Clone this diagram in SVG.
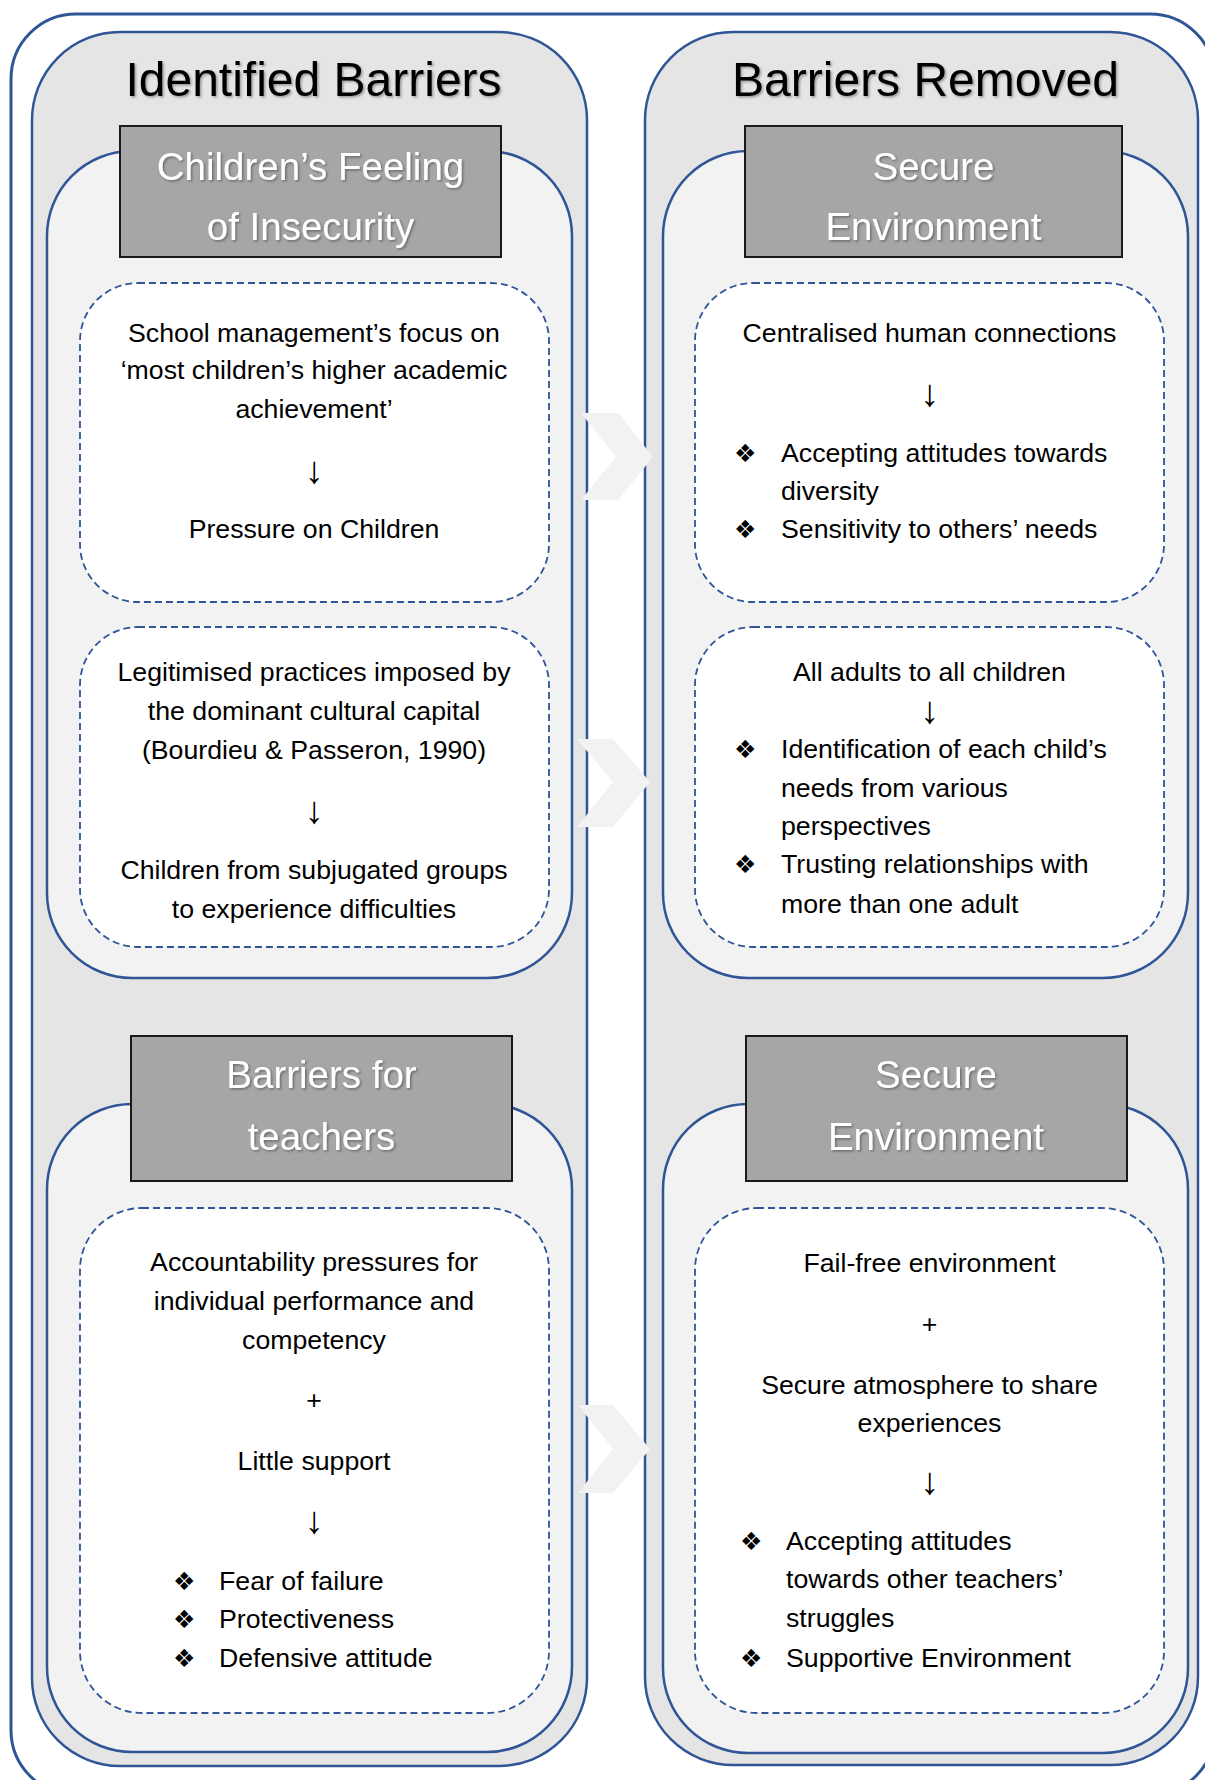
<svg xmlns="http://www.w3.org/2000/svg" width="1205" height="1780" viewBox="0 0 1205 1780">
<defs>
<filter id="sh" x="-10%" y="-20%" width="120%" height="140%">
<feDropShadow dx="1.5" dy="1.5" stdDeviation="1" flood-color="#000" flood-opacity="0.35"/>
</filter>
</defs>
<style>
.frame{fill:#fff;stroke:#2f5597;stroke-width:3}
.col{fill:#e5e5e5;stroke:#2f5597;stroke-width:2.5}
.panel{fill:#f2f2f2;stroke:#2f5597;stroke-width:2.5}
.card{fill:#fff;stroke:#2f5597;stroke-width:1.8;stroke-dasharray:7 4}
.hdr{fill:#a6a6a6;stroke:#1a1a1a;stroke-width:2}
.title{font-family:"Liberation Sans",Arial,sans-serif;font-size:48px;fill:#000;text-anchor:middle}
.htxt{font-family:"Liberation Sans",Arial,sans-serif;font-size:38.5px;fill:#fff;text-anchor:middle}
.t{font-family:"Liberation Sans",Arial,sans-serif;font-size:26.7px;fill:#000}
.c{text-anchor:middle}
.a{font-family:"Liberation Sans",Arial,sans-serif;font-size:38px;fill:#000;text-anchor:middle}
.b{font-family:"DejaVu Sans",sans-serif;font-size:25px;fill:#000}
.chev{fill:#f2f2f2}
</style>
<rect id="frame" class="frame" x="11" y="14" width="1204" height="1781" rx="65"/>

<g id="col-left">
<rect class="col" x="32" y="32" width="555" height="1734" rx="88"/>
<text class="title" x="313.5" y="96" filter="url(#sh)">Identified Barriers</text>
</g>
<g id="col-right">
<rect class="col" x="645" y="32" width="553" height="1733" rx="88"/>
<text class="title" x="925.5" y="96" filter="url(#sh)">Barriers Removed</text>
</g>

<g id="panel-left-1">
<rect class="panel" x="47" y="151" width="525" height="827" rx="85"/>
<rect class="hdr" x="120" y="126" width="381" height="131"/>
<text class="htxt" x="310.5" y="180" filter="url(#sh)">Children’s Feeling</text>
<text class="htxt" x="310.5" y="240" filter="url(#sh)">of Insecurity</text>
</g>
<g id="panel-right-1">
<rect class="panel" x="663" y="151" width="525" height="827" rx="85"/>
<rect class="hdr" x="745" y="126" width="377" height="131"/>
<text class="htxt" x="933.5" y="180" filter="url(#sh)">Secure</text>
<text class="htxt" x="933.5" y="240" filter="url(#sh)">Environment</text>
</g>
<g id="panel-left-2">
<rect class="panel" x="47" y="1104" width="525" height="648" rx="85"/>
<rect class="hdr" x="131" y="1036" width="381" height="145"/>
<text class="htxt" x="321.5" y="1088" filter="url(#sh)">Barriers for</text>
<text class="htxt" x="321.5" y="1150" filter="url(#sh)">teachers</text>
</g>
<g id="panel-right-2">
<rect class="panel" x="663" y="1104" width="525" height="649" rx="85"/>
<rect class="hdr" x="746" y="1036" width="381" height="145"/>
<text class="htxt" x="936" y="1088" filter="url(#sh)">Secure</text>
<text class="htxt" x="936" y="1150" filter="url(#sh)">Environment</text>
</g>

<g id="card-left-1">
<rect class="card" x="80" y="283" width="469" height="319" rx="58"/>
<text class="t c" x="314" y="342">School management’s focus on</text>
<text class="t c" x="314" y="379">‘most children’s higher academic</text>
<text class="t c" x="314" y="418">achievement’</text>
<text class="a" x="314" y="483">↓</text>
<text class="t c" x="314" y="538">Pressure on Children</text>
</g>
<g id="card-left-2">
<rect class="card" x="80" y="627" width="469" height="320" rx="58"/>
<text class="t c" x="314" y="681">Legitimised practices imposed by</text>
<text class="t c" x="314" y="720">the dominant cultural capital</text>
<text class="t c" x="314" y="759">(Bourdieu &amp; Passeron, 1990)</text>
<text class="a" x="314" y="823">↓</text>
<text class="t c" x="314" y="879">Children from subjugated groups</text>
<text class="t c" x="314" y="918">to experience difficulties</text>
</g>
<g id="card-left-3">
<rect class="card" x="80" y="1208" width="469" height="505" rx="62"/>
<text class="t c" x="314" y="1271">Accountability pressures for</text>
<text class="t c" x="314" y="1310">individual performance and</text>
<text class="t c" x="314" y="1349">competency</text>
<text class="t c" x="314" y="1409">+</text>
<text class="t c" x="314" y="1470">Little support</text>
<text class="a" x="314" y="1533">↓</text>
<text class="b" x="173" y="1590">❖</text><text class="t" x="219" y="1590">Fear of failure</text>
<text class="b" x="173" y="1628">❖</text><text class="t" x="219" y="1628">Protectiveness</text>
<text class="b" x="173" y="1667">❖</text><text class="t" x="219" y="1667">Defensive attitude</text>
</g>

<g id="card-right-1">
<rect class="card" x="695" y="283" width="469" height="319" rx="58"/>
<text class="t c" x="929.5" y="342">Centralised human connections</text>
<text class="a" x="929.5" y="406">↓</text>
<text class="b" x="734" y="462">❖</text><text class="t" x="781" y="462">Accepting attitudes towards</text>
<text class="t" x="781" y="500">diversity</text>
<text class="b" x="734" y="538">❖</text><text class="t" x="781" y="538">Sensitivity to others’ needs</text>
</g>
<g id="card-right-2">
<rect class="card" x="695" y="627" width="469" height="320" rx="58"/>
<text class="t c" x="929.5" y="681">All adults to all children</text>
<text class="a" x="929.5" y="723">↓</text>
<text class="b" x="734" y="758">❖</text><text class="t" x="781" y="758">Identification of each child’s</text>
<text class="t" x="781" y="797">needs from various</text>
<text class="t" x="781" y="835">perspectives</text>
<text class="b" x="734" y="873">❖</text><text class="t" x="781" y="873">Trusting relationships with</text>
<text class="t" x="781" y="913">more than one adult</text>
</g>
<g id="card-right-3">
<rect class="card" x="695" y="1208" width="469" height="505" rx="62"/>
<text class="t c" x="929.5" y="1272">Fail-free environment</text>
<text class="t c" x="929.5" y="1333">+</text>
<text class="t c" x="929.5" y="1394">Secure atmosphere to share</text>
<text class="t c" x="929.5" y="1432">experiences</text>
<text class="a" x="929.5" y="1494">↓</text>
<text class="b" x="740" y="1550">❖</text><text class="t" x="786" y="1550">Accepting attitudes</text>
<text class="t" x="786" y="1588">towards other teachers’</text>
<text class="t" x="786" y="1627">struggles</text>
<text class="b" x="740" y="1667">❖</text><text class="t" x="786" y="1667">Supportive Environment</text>
</g>

<g id="connectors">
<polygon class="chev" points="581,413 618,413 653,457 618,500 581,500 616,457"/>
<polygon class="chev" points="577,739 613,739 650,782 613,827 577,827 613,782"/>
<polygon class="chev" points="578,1405 613,1405 650,1449 613,1493 578,1493 613,1449"/>
</g>
</svg>
